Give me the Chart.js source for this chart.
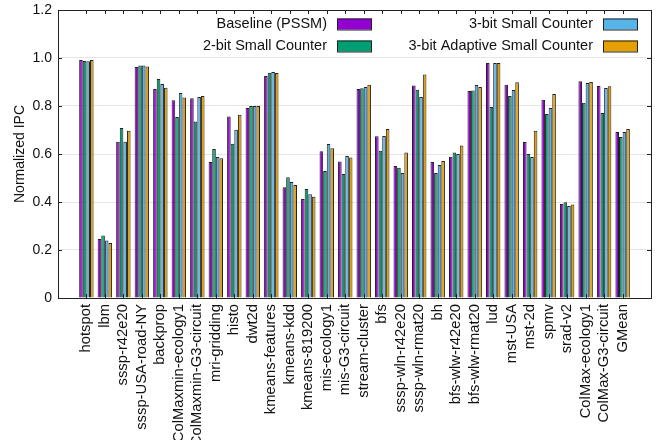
<!DOCTYPE html>
<html>
<head>
<meta charset="utf-8">
<script src="https://cdn.jsdelivr.net/npm/chart.js@4"></script>
<style>
  body { margin: 0; background: #fff; }
</style>
</head>
<body>
<canvas id="chart" width="662" height="440"></canvas>
<script>
// benchmark names along the x axis
const benchmarks = ['hotspot', 'lbm', 'sssp-r42e20', 'sssp-USA-road-NY', 'backprop',
  'ColMaxmin-ecology1', 'ColMaxmin-G3-circuit', 'mri-gridding', 'histo', 'dwt2d',
  'kmeans-features', 'kmeans-kdd', 'kmeans-819200', 'mis-ecology1', 'mis-G3-circuit',
  'stream-cluster', 'bfs', 'sssp-wln-r42e20', 'sssp-wln-rmat20', 'bh',
  'bfs-wlw-r42e20', 'bfs-wlw-rmat20', 'lud', 'mst-USA', 'mst-2d',
  'spmv', 'srad-v2', 'ColMax-ecology1', 'ColMax-G3-circuit', 'GMean'];

// normalized IPC per configuration
const baseline = [0.992, 0.246, 0.651, 0.963, 0.871, 0.824, 0.832, 0.567, 0.756, 0.792,
  0.925, 0.461, 0.413, 0.611, 0.569, 0.871, 0.674, 0.550, 0.885, 0.567,
  0.589, 0.863, 0.979, 0.889, 0.650, 0.826, 0.392, 0.903, 0.883, 0.692];
const twoBit = [0.988, 0.260, 0.708, 0.969, 0.913, 0.754, 0.735, 0.621, 0.643, 0.800,
  0.939, 0.503, 0.454, 0.529, 0.517, 0.874, 0.614, 0.543, 0.868, 0.521,
  0.606, 0.865, 0.796, 0.842, 0.600, 0.767, 0.399, 0.814, 0.771, 0.671];
const threeBit = [0.986, 0.240, 0.651, 0.969, 0.892, 0.854, 0.838, 0.588, 0.701, 0.800,
  0.942, 0.483, 0.432, 0.642, 0.592, 0.879, 0.675, 0.521, 0.838, 0.554,
  0.600, 0.888, 0.979, 0.867, 0.588, 0.792, 0.383, 0.896, 0.875, 0.692];
const adaptive = [0.992, 0.229, 0.697, 0.965, 0.876, 0.835, 0.842, 0.582, 0.764, 0.800,
  0.938, 0.471, 0.422, 0.624, 0.585, 0.889, 0.704, 0.606, 0.931, 0.571,
  0.635, 0.879, 0.979, 0.899, 0.697, 0.850, 0.390, 0.900, 0.882, 0.704];

const seriesNames = ['Baseline (PSSM)', '2-bit Small Counter', '3-bit Small Counter', '3-bit Adaptive Small Counter'];
const seriesColors = ['#9400d3', '#009e73', '#56b4e9', '#e69f00'];
const yTicks = [0, 0.2, 0.4, 0.6, 0.8, 1, 1.2];

const FONT = 'Liberation Sans, Arial, Helvetica, sans-serif';

function toPoints(values) {
  return values.map((v, i) => ({ x: i, y: v }));
}

// frame, inward tick marks and the gnuplot style legend
const framePlugin = {
  id: 'frame',
  afterDraw(chart) {
    const ctx = chart.ctx;
    const a = chart.chartArea;
    const xs = chart.scales.x, ys = chart.scales.y;
    const t = 4;
    ctx.save();
    ctx.strokeStyle = '#222';
    ctx.lineWidth = 1;
    ctx.beginPath();
    yTicks.forEach(v => {
      const y = Math.round(ys.getPixelForValue(v)) + 0.5;
      ctx.moveTo(a.left, y); ctx.lineTo(a.left + t, y);
      ctx.moveTo(a.right, y); ctx.lineTo(a.right - t, y);
    });
    benchmarks.forEach((_, i) => {
      const x = Math.round(xs.getPixelForValue(i)) + 0.5;
      ctx.moveTo(x, a.top); ctx.lineTo(x, a.top + t);
      ctx.moveTo(x, a.bottom); ctx.lineTo(x, a.bottom - t);
    });
    ctx.stroke();
    ctx.strokeRect(Math.round(a.left) + 0.5, Math.round(a.top) + 0.5,
      Math.round(a.right - a.left), Math.round(a.bottom - a.top));

    // legend: two columns, text right aligned, swatch on the right
    const cols = [327, 593];
    const rows = [24, 46];
    ctx.font = '14.5px ' + FONT;
    ctx.textAlign = 'right';
    ctx.textBaseline = 'middle';
    chart.data.datasets.forEach((ds, i) => {
      const col = Math.floor(i / 2), row = i % 2;
      const x = cols[col], y = rows[row];
      ctx.fillStyle = '#111';
      ctx.fillText(ds.label, x, y);
      ctx.fillStyle = ds.backgroundColor;
      ctx.fillRect(x + 10, y - 5.5, 35, 11);
      ctx.strokeStyle = '#222';
      ctx.strokeRect(x + 10.5, y - 5, 34, 11);
    });
    ctx.restore();
  }
};

const ctx = document.getElementById('chart').getContext('2d');
const chart = new Chart(ctx, {
  type: 'bar',
  data: {
    datasets: [baseline, twoBit, threeBit, adaptive].map((vals, i) => ({
      label: seriesNames[i],
      data: toPoints(vals),
      backgroundColor: seriesColors[i],
      borderColor: '#222',
      borderWidth: 1,
      categoryPercentage: 0.78,
      barPercentage: 1.0
    }))
  },
  options: {
    responsive: false,
    animation: false,
    layout: { padding: { top: 10, right: 11, left: 0, bottom: 0 } },
    plugins: {
      legend: { display: false },
      tooltip: { enabled: false }
    },
    scales: {
      x: {
        type: 'linear',
        min: -1,
        max: 30,
        grid: { display: false, drawTicks: false },
        border: { display: false },
        afterBuildTicks: scale => { scale.ticks = benchmarks.map((_, i) => ({ value: i })); },
        afterFit: scale => { scale.height = 142; scale.paddingLeft = 0; scale.paddingRight = 0; },
        ticks: {
          autoSkip: false,
          maxRotation: 90,
          minRotation: 90,
          padding: 6,
          color: '#111',
          font: { family: FONT, size: 14.8 },
          callback: v => benchmarks[v] ?? ''
        }
      },
      y: {
        min: 0,
        max: 1.2,
        afterBuildTicks: scale => { scale.ticks = yTicks.map(v => ({ value: v })); },
        afterFit: scale => { scale.width = 58; scale.paddingTop = 0; scale.paddingBottom = 0; },
        grid: {
          drawTicks: false,
          color: ctx => (ctx.tick && ctx.tick.value > 0 && ctx.tick.value < 1.2) ? '#e6e6e6' : 'rgba(0,0,0,0)'
        },
        border: { display: false },
        ticks: {
          padding: 6,
          color: '#111',
          font: { family: FONT, size: 14 }
        },
        title: {
          display: true,
          text: 'Normalized IPC',
          color: '#111',
          padding: { top: 12, bottom: 0 },
          font: { family: FONT, size: 14 }
        }
      }
    }
  },
  plugins: [framePlugin]
});
</script>
</body>
</html>
